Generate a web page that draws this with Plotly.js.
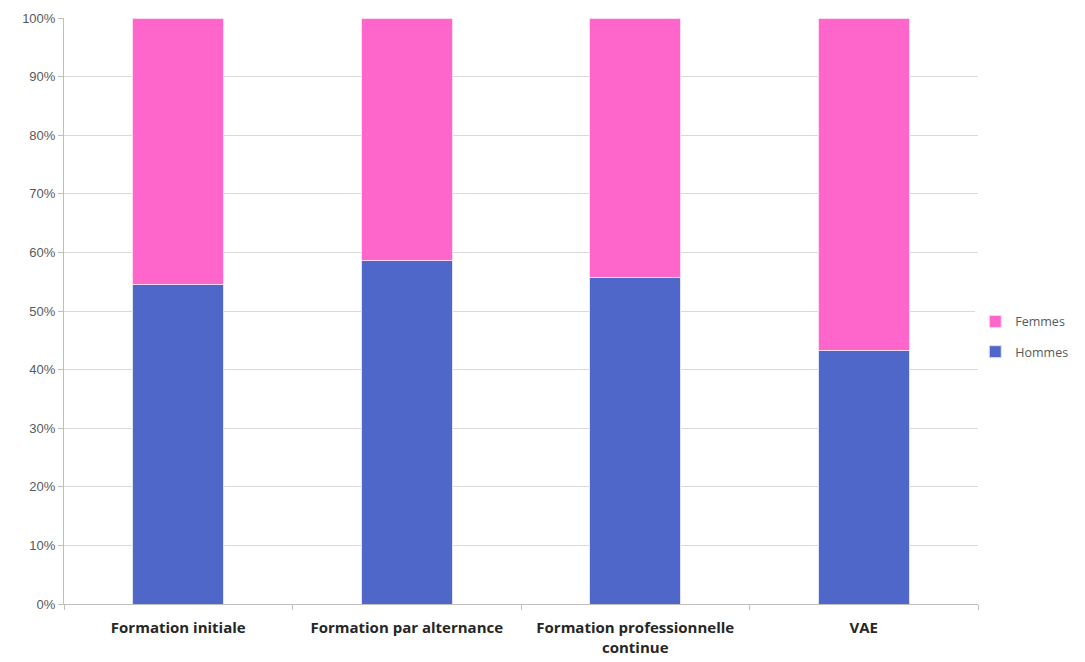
<!DOCTYPE html>
<html>
<head>
<meta charset="utf-8">
<script src="https://cdn.plot.ly/plotly-3.0.1.min.js"></script>
<style>html,body{margin:0;padding:0;background:#fff;}#chart{width:1085px;height:662px;}</style>
</head>
<body>
<div id="chart"></div>
<script>
const categories = ["Formation initiale", "Formation par alternance", "Formation professionnelle<br>continue", "VAE"];
const hommes = [54.6, 58.6, 55.8, 43.2];
const femmes = [45.4, 41.4, 44.2, 56.8];
const yTickVals = [0, 10, 20, 30, 40, 50, 60, 70, 80, 90, 100];
const yTickText = ["0%", "10%", "20%", "30%", "40%", "50%", "60%", "70%", "80%", "90%", "100%"];

const traces = [
  {type: "bar", name: "Hommes", x: categories, y: hommes, legendgroup: "h", legendrank: 2,
   marker: {color: "#4F67C8", line: {color: "#dfe3f5", width: 1}}, hoverinfo: "y+name"},
  {type: "bar", name: "Femmes", x: categories, y: femmes, legendgroup: "f", legendrank: 1,
   marker: {color: "#FF66CC", line: {color: "#ffd9f0", width: 1}}, hoverinfo: "y+name"}
];

const layout = {
  width: 1085, height: 662,
  margin: {l: 64, r: 107, t: 18, b: 58, autoexpand: false},
  paper_bgcolor: "#ffffff", plot_bgcolor: "#ffffff",
  barmode: "stack", bargap: 0.6,
  font: {family: "Liberation Sans, Arial, sans-serif", color: "#595959", size: 12},
  xaxis: {
    showgrid: false, showline: true, linecolor: "#bfbfbf", linewidth: 1,
    ticks: "outside", tickson: "boundaries", ticklen: 5, tickcolor: "#bfbfbf",
    ticklabelstandoff: 10,
    tickfont: {family: "Open Sans, Liberation Sans, sans-serif", size: 15, color: "#262626", weight: "bold"},
    fixedrange: true
  },
  yaxis: {
    range: [0, 100], tickvals: yTickVals, ticktext: yTickText,
    showgrid: true, gridcolor: "#d9d9d9", gridwidth: 1,
    showline: true, linecolor: "#bfbfbf", linewidth: 1,
    ticks: "outside", ticklen: 5, tickcolor: "#bfbfbf",
    tickfont: {family: "Liberation Sans, Arial, sans-serif", size: 13, color: "#595959"},
    zeroline: false, fixedrange: true
  },
  legend: {
    x: 0.997, xanchor: "left", y: 0.456, yanchor: "middle",
    traceorder: "grouped", tracegroupgap: 11,
    font: {family: "Open Sans, Liberation Sans, sans-serif", size: 12.5, color: "#595959"},
    itemwidth: 30
  },
  showlegend: true
};

Plotly.newPlot("chart", traces, layout, {displayModeBar: false, staticPlot: true});
</script>
</body>
</html>
